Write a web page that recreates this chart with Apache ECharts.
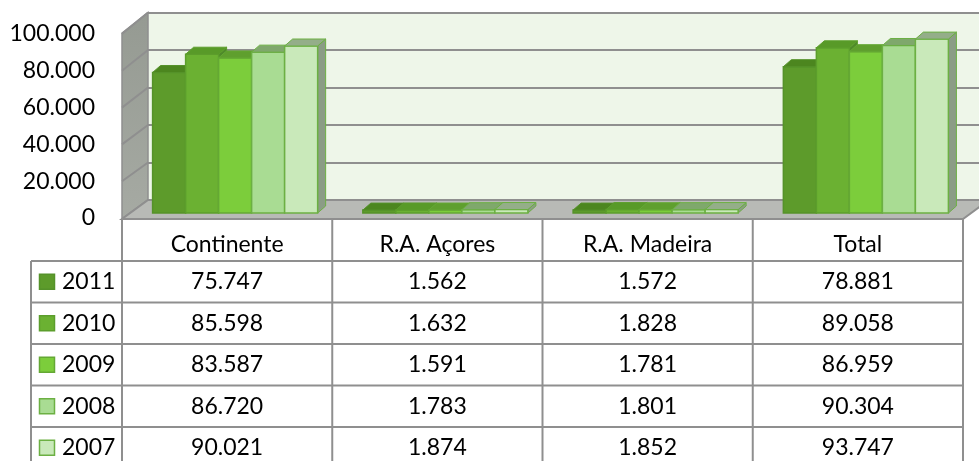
<!DOCTYPE html>
<html>
<head>
<meta charset="utf-8">
<script src="https://cdn.jsdelivr.net/npm/echarts@6.0.0/dist/echarts.min.js"></script>
<style>
html, body { margin: 0; padding: 0; background: #fff; }
#chart { width: 979px; height: 461px; }
</style>
</head>
<body>
<div id="chart"></div>
<script>
// data
const categories = ['Continente', 'R.A. Açores', 'R.A. Madeira', 'Total']
const years = ['2011', '2010', '2009', '2008', '2007']
const v2011 = [75747, 1562, 1572, 78881]
const v2010 = [85598, 1632, 1828, 89058]
const v2009 = [83587, 1591, 1781, 86959]
const v2008 = [86720, 1783, 1801, 90304]
const v2007 = [90021, 1874, 1852, 93747]
const yTicks = [0, 20000, 40000, 60000, 80000, 100000]

const seriesValues = [v2011, v2010, v2009, v2008, v2007]

// bar faces, darkest year first
const faces = [
  { front: '#5d9b2b', top: '#4c861f', side: '#487a26', stroke: '#55922a' },
  { front: '#6bb132', top: '#589a28', side: '#4f8a2a', stroke: '#5c9e2c' },
  { front: '#7ccd3b', top: '#5f9f2e', side: '#5a8f3a', stroke: '#64a834' },
  { front: '#a9dc93', top: '#7fa86c', side: '#7b9b70', stroke: '#6cb043' },
  { front: '#c9e9ba', top: '#94ae89', side: '#8b9c86', stroke: '#6cb043' }
]

const FONT = 'Lato'
const FS = 23
const DX = 8, DY = -7
const GRID_LINE = '#8f8f8f'

const fmt = v => String(Math.round(v)).replace(/\B(?=(\d{3})+(?!\d))/g, '.')

const chart = echarts.init(document.getElementById('chart'))

function renderBar(params, api) {
  const i = params.seriesIndex
  const cat = api.value(0)
  const base = api.coord([cat, 0])
  const top = api.coord([cat, api.value(1)])
  const w = api.size([1, 0])[0] * 0.157
  const x0 = base[0] + (i - 2.5) * w
  const x1 = x0 + w
  const yb = base[1], yt = top[1]
  const f = faces[i]
  return {
    type: 'group',
    children: [
      {
        type: 'polygon',
        shape: { points: [[x1, yt], [x1 + DX, yt + DY], [x1 + DX, yb + DY], [x1, yb]] },
        style: { fill: f.side, stroke: f.stroke, lineWidth: 1 }
      },
      {
        type: 'rect',
        shape: { x: x0, y: yt, width: w, height: yb - yt },
        style: { fill: f.front, stroke: f.stroke, lineWidth: 1.5 }
      },
      {
        type: 'polygon',
        shape: { points: [[x0, yt], [x0 + DX, yt + DY], [x1 + DX, yt + DY], [x1, yt]] },
        style: { fill: f.top, stroke: f.stroke, lineWidth: 1 }
      }
    ]
  }
}

const option = {
  animation: false,
  grid: [
    // front plane: tick labels and column headers
    { left: 122, right: 16, top: 34, bottom: 243, outerBoundsMode: 'none' },
    // back wall
    { left: 148, right: 0, top: 12.5, bottom: 261, show: true, backgroundColor: '#eef6e9', borderWidth: 0, outerBoundsMode: 'none' },
    // bars
    { left: 130, right: 8, top: 27.5, bottom: 248, outerBoundsMode: 'none' }
  ],
  xAxis: [
    {
      gridIndex: 0, type: 'category', data: categories,
      axisLine: { show: false }, axisTick: { show: false },
      axisLabel: { color: '#000', fontSize: FS, fontFamily: FONT, margin: 15 }
    },
    { gridIndex: 1, type: 'category', data: categories, show: false },
    { gridIndex: 2, type: 'category', data: categories, show: false }
  ],
  yAxis: [
    {
      gridIndex: 0, type: 'value', min: 0, max: 100000, interval: 20000,
      axisLine: { show: false }, axisTick: { show: false }, splitLine: { show: false },
      axisLabel: { color: '#000', fontSize: FS, fontFamily: FONT, margin: 27, formatter: fmt }
    },
    {
      gridIndex: 1, type: 'value', min: 0, max: 100000, interval: 20000,
      axisLine: { show: false }, axisTick: { show: false }, axisLabel: { show: false },
      splitLine: { lineStyle: { color: GRID_LINE, width: 2 } }
    },
    { gridIndex: 2, type: 'value', min: 0, max: 100000, show: false }
  ],
  series: years.map((y, i) => ({
    name: y,
    type: 'custom',
    xAxisIndex: 2,
    yAxisIndex: 2,
    clip: false,
    z: 5,
    renderItem: renderBar,
    encode: { x: 0, y: 1 },
    data: seriesValues[i].map((v, k) => [k, v])
  }))
}

chart.setOption(option)

// walls, floor and the data table
const fy = v => chart.convertToPixel({ yAxisIndex: 0 }, v)
const by = v => chart.convertToPixel({ yAxisIndex: 1 }, v)
const colX = k => chart.convertToPixel({ xAxisIndex: 0 }, k)

const FL = 122, FR = 963, BL = 148
const colW = (FR - FL) / categories.length
const frontFloor = fy(0) + 1
const backFloor = by(0)
const rowTop = 261, rowH = 41.5, legendL = 31

const graphic = []

graphic.push({
  type: 'polygon', z: 1,
  shape: { points: [[FL, fy(100000) - 1], [BL, by(100000)], [BL, backFloor], [FL, frontFloor]] },
  style: {
    fill: new echarts.graphic.LinearGradient(0, 0, 0, 1, [
      { offset: 0, color: '#959a92' },
      { offset: 1, color: '#a6aaa3' }
    ]),
    stroke: GRID_LINE, lineWidth: 1.5
  }
})
yTicks.forEach(v => {
  graphic.push({
    type: 'line', z: 1,
    shape: { x1: FL, y1: v === 0 ? frontFloor : fy(v), x2: BL, y2: by(v) },
    style: { stroke: GRID_LINE, lineWidth: 2 }
  })
})
graphic.push({
  type: 'polygon', z: 1,
  shape: { points: [[FL, frontFloor], [BL, backFloor], [FR + 26, backFloor], [FR, frontFloor]] },
  style: { fill: '#b8bab6', stroke: GRID_LINE, lineWidth: 2 }
})

// table lines
for (let k = 0; k <= categories.length; k++) {
  const x = FL + k * colW
  graphic.push({ type: 'line', z: 6, shape: { x1: x, y1: frontFloor, x2: x, y2: 461 }, style: { stroke: GRID_LINE, lineWidth: 2 } })
}
graphic.push({ type: 'line', z: 6, shape: { x1: legendL, y1: rowTop, x2: legendL, y2: 461 }, style: { stroke: GRID_LINE, lineWidth: 2 } })
for (let r = 0; r < years.length; r++) {
  const y = rowTop + r * rowH
  graphic.push({ type: 'line', z: 6, shape: { x1: legendL, y1: y, x2: FR, y2: y }, style: { stroke: GRID_LINE, lineWidth: 2 } })
}

// table rows
years.forEach((yr, r) => {
  const cy = rowTop + r * rowH + rowH / 2
  graphic.push({
    type: 'rect', z: 6,
    shape: { x: 39.5, y: cy - 7.5, width: 15, height: 15 },
    style: { fill: faces[r].front, stroke: faces[r].stroke, lineWidth: 1.5 }
  })
  graphic.push({
    type: 'text', z: 6,
    style: { text: yr, x: 62, y: cy, fill: '#000', fontSize: FS, fontFamily: FONT, align: 'left', verticalAlign: 'middle' }
  })
  seriesValues[r].forEach((v, k) => {
    graphic.push({
      type: 'text', z: 6,
      style: { text: fmt(v), x: colX(k), y: cy, fill: '#000', fontSize: FS, fontFamily: FONT, align: 'center', verticalAlign: 'middle' }
    })
  })
})

chart.setOption({ graphic })
</script>
</body>
</html>
